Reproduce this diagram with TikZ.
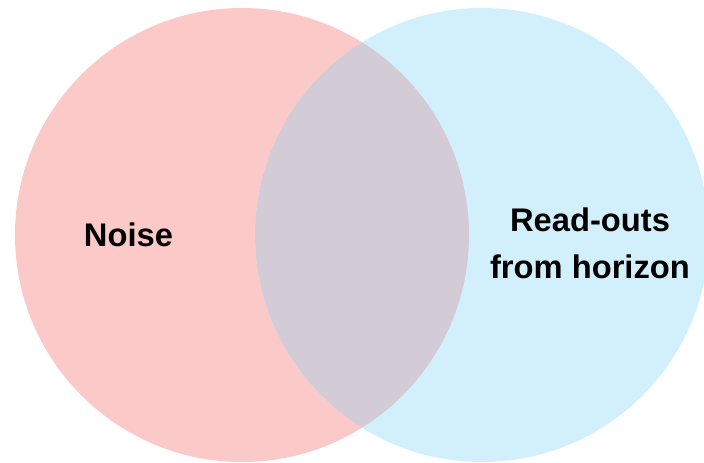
\documentclass[tikz,border=0pt]{standalone}
\usepackage{fontspec}
\setmainfont{Liberation Sans}
\definecolor{noisepink}{RGB}{252,201,201}
\definecolor{horizonblue}{RGB}{210,240,251}
\definecolor{overlapgrey}{RGB}{211,203,214}
\begin{document}
\begin{tikzpicture}[x=1pt, y=-1pt,
    label/.style={font=\fontsize{32.7}{47}\selectfont\bfseries, align=center, inner sep=0pt}]
  % Cadre
  \useasboundingbox (0,0) rectangle (704,463);
  \clip (0,0) rectangle (704,463);
  % Cercles
  \fill[noisepink]   (242,235) circle (227);
  \fill[horizonblue] (482,235) circle (227);
  % Intersection
  \begin{scope}
    \clip (242,235) circle (227);
    \fill[overlapgrey] (482,235) circle (227);
  \end{scope}
  % Textes
  \node[label, anchor=base] (noise) at (128.5,246) {Noise};
  \node[label] (horizon) at (590,243) {Read-outs\\from horizon};
\end{tikzpicture}
\end{document}
